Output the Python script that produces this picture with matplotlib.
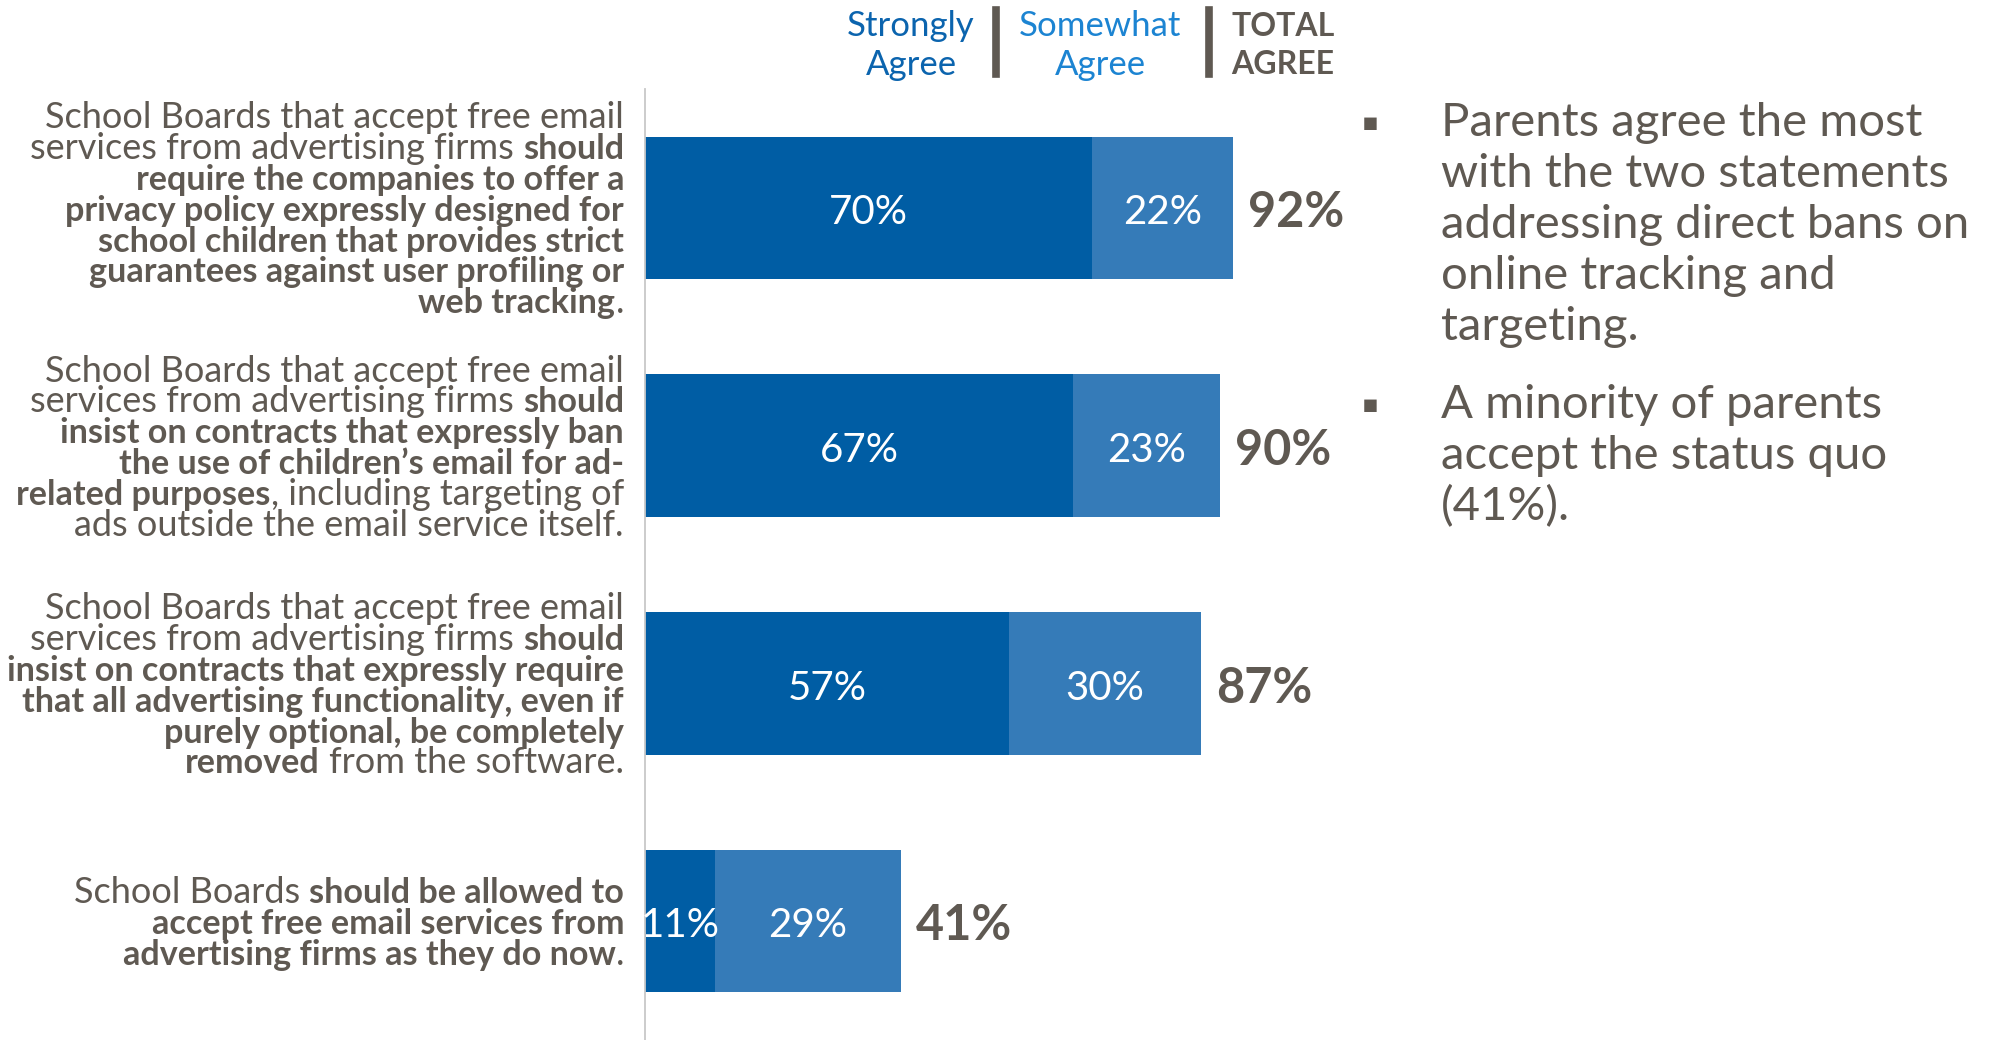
import matplotlib
matplotlib.use("Agg")
import matplotlib.pyplot as plt
from matplotlib.lines import Line2D
from matplotlib.transforms import IdentityTransform

# --- data ---
statements = [
    ["School Boards that accept free email",
     "services from advertising firms **should**",
     "**require the companies to offer a**",
     "**privacy policy expressly designed for**",
     "**school children that provides strict**",
     "**guarantees against user profiling or**",
     "**web tracking**."],
    ["School Boards that accept free email",
     "services from advertising firms **should**",
     "**insist on contracts that expressly ban**",
     "**the use of children\u2019s email for ad-**",
     "**related purposes**, including targeting of",
     "ads outside the email service itself."],
    ["School Boards that accept free email",
     "services from advertising firms **should**",
     "**insist on contracts that expressly require**",
     "**that all advertising functionality, even if**",
     "**purely optional, be completely**",
     "**removed** from the software."],
    ["School Boards **should be allowed to**",
     "**accept free email services from**",
     "**advertising firms as they do now**."],
]
strongly = [70, 67, 57, 11]
somewhat = [22, 23, 30, 29]
totals = [92, 90, 87, 41]

bullets = [
    ["Parents agree the most", "with the two statements",
     "addressing direct bans on", "online tracking and", "targeting."],
    ["A minority of parents", "accept the status quo", "(41%)."],
]

# --- style ---
W, H, DPI = 1995, 1040, 100
FONT = ["Lato", "DejaVu Sans"]
GRAY = "#5F5952"
DARK = "#005DA4"
LIGHT = "#357BB8"
plt.rcParams["font.family"] = FONT

fig = plt.figure(figsize=(W / DPI, H / DPI), dpi=DPI)
ax = fig.add_axes([645 / W, 0, 639 / W, (H - 89) / H])

y = list(range(len(strongly)))
ax.barh(y, strongly, height=0.6, color=DARK, edgecolor="none")
ax.barh(y, somewhat, left=strongly, height=0.6, color=LIGHT, edgecolor="none")
ax.set_xlim(0, 100)
ax.set_ylim(len(y) - 0.5, -0.5)
for side in ["top", "right", "bottom"]:
    ax.spines[side].set_visible(False)
ax.spines["left"].set_color("#C8C8C8")
ax.spines["left"].set_linewidth(1.3)
ax.set_xticks([])
ax.set_yticks([])

for i in y:
    ax.annotate(f"{strongly[i]}%", xy=(strongly[i] / 2, i), xytext=(0, -3.5),
                textcoords="offset points", ha="center", va="center",
                color="white", fontsize=29)
    ax.annotate(f"{somewhat[i]}%", xy=(strongly[i] + somewhat[i] / 2, i),
                xytext=(0, -3.5), textcoords="offset points", ha="center",
                va="center", color="white", fontsize=29)
    ax.annotate(f"{totals[i]}%", xy=(strongly[i] + somewhat[i], i),
                xytext=(11, -3.5), textcoords="offset points", ha="left",
                va="center", color=GRAY, fontsize=35, fontweight="bold")

# header (pixel positions, top-left origin)
ident = IdentityTransform()
def put(x, ytop, s, **kw):
    return fig.text(x, H - ytop, s, transform=ident, **kw)

put(911, 26, "Strongly", ha="center", va="center", fontsize=25, color="#0B64AE")
put(911, 65, "Agree", ha="center", va="center", fontsize=25, color="#0B64AE")
put(1100, 26, "Somewhat", ha="center", va="center", fontsize=25, color="#1C84D2")
put(1100, 65, "Agree", ha="center", va="center", fontsize=25, color="#1C84D2")
put(1283, 26, "TOTAL", ha="center", va="center", fontsize=23, color=GRAY, fontweight="bold")
put(1283, 65, "AGREE", ha="center", va="center", fontsize=23, color=GRAY, fontweight="bold")
for xs in (996, 1209):
    fig.add_artist(Line2D([xs, xs], [H - 10, H - 74], transform=ident,
                          color=GRAY, linewidth=5.5))

# statement labels with mixed regular / bold runs, right aligned
renderer = fig.canvas.get_renderer()
REG_FS = 26
BOLD_FS = 24.6
PITCH = 30.8
RIGHT = 624

probe = put(0, 0, "x x", fontsize=REG_FS)
w2 = probe.get_window_extent(renderer).width
probe.set_text("xx")
space_w = w2 - probe.get_window_extent(renderer).width
probe.remove()

for i, lines in enumerate(statements):
    yc = H - ax.transData.transform((0, i))[1]
    n = len(lines)
    for j, line in enumerate(lines):
        ybase = yc + (j - (n - 1) / 2) * PITCH + 0.36 * REG_FS * DPI / 72
        parts = line.split("**")
        segs = [(p, k % 2 == 1) for k, p in enumerate(parts) if p]
        cur = RIGHT
        for text, bold in reversed(segs):
            if text.endswith(" "):
                cur -= space_w
            t = put(cur, ybase, text.strip(), ha="right", va="baseline",
                    fontsize=BOLD_FS if bold else REG_FS, color=GRAY,
                    fontweight="bold" if bold else "normal")
            cur -= t.get_window_extent(renderer).width
            if text.startswith(" "):
                cur -= space_w

# bullets on the right
BUL_FS = 34
starts = [123, 405]
for b, lines in enumerate(bullets):
    for j, line in enumerate(lines):
        yy = starts[b] + j * 51
        put(1441, yy, line, ha="left", va="center", fontsize=BUL_FS, color=GRAY)
    put(1370, starts[b], "\u25aa", ha="center", va="center", fontsize=18,
        color=GRAY, family="DejaVu Sans")

fig.savefig("out.png", dpi=DPI, facecolor="white")
